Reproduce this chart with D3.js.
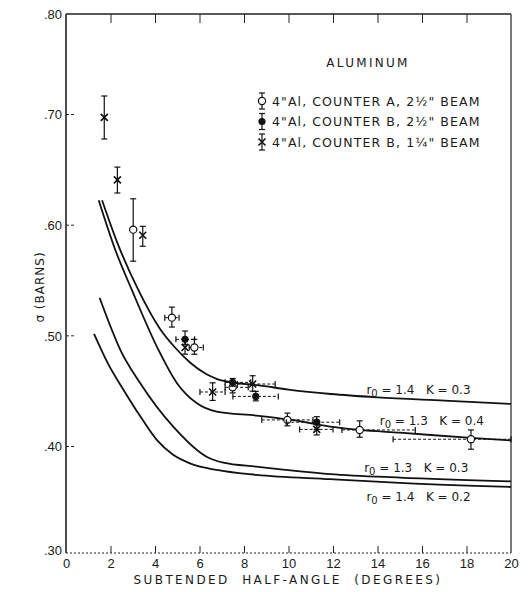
<!DOCTYPE html>
<html>
<head>
<meta charset="utf-8">
<script src="https://cdn.jsdelivr.net/npm/d3@7/dist/d3.min.js"></script>
<style>
    body { margin: 0; background: #fff; }
    svg { font-family: "DejaVu Sans", sans-serif; fill: #1a1a1a; }
    .curve { fill: none; stroke: #111; stroke-width: 1.8; }
    .frame line { stroke: #222; }
    .ebar { stroke: #111; stroke-width: 1.2; }
    .hbar { stroke: #111; stroke-width: 1; stroke-dasharray: 3, 2; }
    .tick text { font-size: 13px; fill: #1a1a1a; }
    .tick line { stroke: #222; }
</style>
</head>
<body>
<div class="svg_container"></div>
<script>
// axis ticks
var xTicks = [0, 2, 4, 6, 8, 10, 12, 14, 16, 18, 20];
var yTicks = [0.30, 0.40, 0.50, 0.60, 0.70, 0.80];
var yTickLabels = [".30", ".40", ".50", ".60", ".70", ".80"];

// 4" Al, counter A, 2 1/2" beam (open circles)
var aX = [3.02, 4.76, 5.77, 7.49, 9.95, 13.2, 18.2];
var aY = [0.5955, 0.516, 0.489, 0.453, 0.4236, 0.4145, 0.4061];
var aYErr = [[0.567, 0.6234], [0.5075, 0.5255], [0.4829, 0.4964], [0.448, 0.4585], [0.4182, 0.4297], [0.4079, 0.4227], [0.397, 0.4145]];
var aXErr = [null, [4.44, 5.08], [5.54, 6.17], [7.15, 8.19], [8.8, 11.1], [12.4, 15.7], [14.7, 20]];

// 4" Al, counter B, 2 1/2" beam (filled circles)
var bX = [5.35, 7.49, 8.53, 11.27];
var bY = [0.4964, 0.4575, 0.4448, 0.4215];
var bYErr = [[0.4919, 0.5039], [0.454, 0.461], [0.4408, 0.4494], [0.415, 0.4265]];
var bXErr = [[4.94, 5.78], [7.15, 8.3], [7.5, 9.54], [9.9, 12.3]];

// 4" Al, counter B, 1 1/4" beam (crosses)
var cX = [1.72, 2.31, 3.45, 5.35, 6.59, 8.39, 11.27];
var cY = [0.697, 0.6405, 0.5904, 0.489, 0.4488, 0.456, 0.415];
var cYErr = [[0.6774, 0.718], [0.6286, 0.652], [0.5805, 0.5985], [0.483, 0.4955], [0.4412, 0.4571], [0.4495, 0.4635], [0.41, 0.42]];
var cXErr = [null, null, null, null, [6.02, 7.15], [7.7, 9.4], [10.5, 12.0]];

// calculated curves
var curve1X = [1.62, 2.3, 3.25, 4.22, 4.9, 5.6, 6.3, 6.8, 7.6, 8.6, 10, 11.9, 14, 17, 20];
var curve1Y = [0.622, 0.584, 0.541, 0.506, 0.489, 0.475, 0.465, 0.4605, 0.457, 0.455, 0.451, 0.447, 0.444, 0.441, 0.438];
var curve2X = [1.47, 2.2, 2.96, 4.15, 4.98, 5.87, 6.77, 8.57, 10, 11.87, 13.2, 15, 18.2, 20];
var curve2Y = [0.622, 0.578, 0.541, 0.487, 0.457, 0.4388, 0.4311, 0.4275, 0.424, 0.4175, 0.4145, 0.412, 0.4073, 0.405];
var curve3X = [1.51, 2.0, 2.43, 3.33, 4.82, 6.32, 7.07, 8.57, 11.87, 15, 20];
var curve3Y = [0.534, 0.508, 0.4873, 0.457, 0.4175, 0.39, 0.3844, 0.3807, 0.3738, 0.3705, 0.367];
var curve4X = [1.26, 1.9, 2.58, 3.3, 4.08, 4.8, 5.57, 6.77, 8.57, 11.87, 15, 20];
var curve4Y = [0.5014, 0.474, 0.4509, 0.428, 0.4055, 0.392, 0.3838, 0.3776, 0.373, 0.369, 0.3655, 0.3617];
var curveR0 = ["1.4", "1.3", "1.3", "1.4"];
var curveK = ["0.3", "0.4", "0.3", "0.2"];

var legendLabels = ['4"Al, COUNTER A, 2\u00BD" BEAM', '4"Al, COUNTER B, 2\u00BD" BEAM', '4"Al, COUNTER B, 1\u00BC" BEAM'];

const WIDTH = 530;
const HEIGHT = 592;
const LEFT = 66;
const RIGHT = 511;
const TOP = 14;
const BOTTOM = 553;

var translate = function (x, y) {
    return "translate(" + x + "," + y + ")";
};

var xScale = d3.scaleLinear()
    .domain([0, 20])
    .range([LEFT, RIGHT]);

// the printed scale is a little stretched between .70 and .80
var yScale = d3.scaleLinear()
    .domain([0.30, 0.40, 0.70, 0.80])
    .range([BOTTOM, 446, 114, TOP]);

var line = d3.line()
    .x(function (d) { return xScale(d[0]); })
    .y(function (d) { return yScale(d[1]); })
    .curve(d3.curveMonotoneX);

var loadAxis = function (svg) {
    var xAxis = d3.axisBottom(xScale)
        .tickValues(xTicks)
        .tickSize(-7)
        .tickPadding(6)
        .tickFormat(d3.format("d"));
    var gx = svg.append('g')
        .attr('transform', translate(0, BOTTOM))
        .call(xAxis);
    gx.select('.domain').remove();
    gx.selectAll('.tick line').filter(function (d) { return d === 0 || d === 20; }).remove();

    var topAxis = d3.axisTop(xScale)
        .tickValues(xTicks.slice(1, -1))
        .tickSize(-9)
        .tickFormat("");
    var gt = svg.append('g')
        .attr('transform', translate(0, TOP))
        .call(topAxis);
    gt.select('.domain').remove();

    var yAxis = d3.axisLeft(yScale)
        .tickValues(yTicks)
        .tickSize(-9)
        .tickPadding(4)
        .tickFormat(function (d, i) { return yTickLabels[i]; });
    var gy = svg.append('g')
        .attr('transform', translate(LEFT, 0))
        .call(yAxis);
    gy.select('.domain').remove();
    gy.selectAll('.tick line').attr('stroke-dasharray', '3,2')
        .filter(function (d) { return d === 0.30 || d === 0.80; }).remove();
    gy.selectAll('.tick text').attr('dy', '0.36em');
    gy.selectAll('.tick text').filter(function (d) { return d === 0.30; }).attr('dy', '0.1em');

    var frame = svg.append('g').attr('class', 'frame');
    frame.append('line').attr('x1', LEFT).attr('x2', LEFT).attr('y1', TOP).attr('y2', BOTTOM).attr('stroke-width', 1.6);
    frame.append('line').attr('x1', LEFT).attr('x2', RIGHT).attr('y1', TOP).attr('y2', TOP).attr('stroke-width', 1.4);
    frame.append('line').attr('x1', RIGHT).attr('x2', RIGHT).attr('y1', TOP).attr('y2', BOTTOM).attr('stroke-width', 1.2);
    frame.append('line').attr('x1', LEFT).attr('x2', RIGHT).attr('y1', BOTTOM).attr('y2', BOTTOM)
        .attr('stroke-width', 1).attr('stroke-dasharray', '2,2');

    svg.append('text')
        .attr('x', 288)
        .attr('y', 584)
        .attr('text-anchor', 'middle')
        .style('font-size', '12px')
        .style('letter-spacing', '2.4px')
        .style('white-space', 'pre')
        .text("SUBTENDED  HALF-ANGLE  (DEGREES)");

    svg.append('text')
        .attr('transform', translate(44, 287) + " rotate(-90)")
        .attr('text-anchor', 'middle')
        .style('font-size', '12px')
        .style('letter-spacing', '1px')
        .text("\u03C3 (BARNS)");
};

var createCurves = function (svg) {
    var xs = [curve1X, curve2X, curve3X, curve4X];
    var ys = [curve1Y, curve2Y, curve3Y, curve4Y];
    var labelPos = [[13.5, 0.447], [14.1, 0.419], [13.4, 0.3757], [13.5, 0.3486]];
    var g = svg.append('g');
    xs.forEach(function (cx, i) {
        var pts = cx.map(function (d, j) { return [d, ys[i][j]]; });
        g.append('path')
            .attr('class', 'curve')
            .attr('d', line(pts));

        var t = g.append('text')
            .attr('x', xScale(labelPos[i][0]))
            .attr('y', yScale(labelPos[i][1]))
            .style('font-size', '12px')
            .style('white-space', 'pre');
        t.append('tspan').text("r");
        t.append('tspan').attr('dy', 3).style('font-size', '10px').text("0");
        t.append('tspan').attr('dy', -3).text(" = " + curveR0[i] + "   K = " + curveK[i]);
    });
};

var drawMarker = function (g, px, py, kind) {
    if (kind === 'open') {
        g.append('circle').attr('cx', px).attr('cy', py).attr('r', 3.6)
            .attr('fill', '#fff').attr('stroke', '#111').attr('stroke-width', 1.2);
    } else if (kind === 'filled') {
        g.append('circle').attr('cx', px).attr('cy', py).attr('r', 3.6)
            .attr('fill', '#111');
    } else {
        g.append('path')
            .attr('d', "M" + (px - 3.5) + "," + (py - 3.5) + "L" + (px + 3.5) + "," + (py + 3.5) +
                "M" + (px - 3.5) + "," + (py + 3.5) + "L" + (px + 3.5) + "," + (py - 3.5))
            .attr('stroke', '#111').attr('stroke-width', 1.6);
    }
};

var createSeries = function (svg, xs, ys, yErr, xErr, kind) {
    var g = svg.append('g');
    xs.forEach(function (d, i) {
        var px = xScale(d), py = yScale(ys[i]);
        if (xErr[i]) {
            var x0 = xScale(xErr[i][0]), x1 = xScale(xErr[i][1]);
            g.append('line').attr('class', 'hbar').attr('x1', x0).attr('x2', x1).attr('y1', py).attr('y2', py);
            g.append('line').attr('class', 'ebar').attr('x1', x0).attr('x2', x0).attr('y1', py - 3).attr('y2', py + 3);
            g.append('line').attr('class', 'ebar').attr('x1', x1).attr('x2', x1).attr('y1', py - 3).attr('y2', py + 3);
        }
        var y0 = yScale(yErr[i][0]), y1 = yScale(yErr[i][1]);
        g.append('line').attr('class', 'ebar').attr('x1', px).attr('x2', px).attr('y1', y0).attr('y2', y1);
        g.append('line').attr('class', 'ebar').attr('x1', px - 3).attr('x2', px + 3).attr('y1', y0).attr('y2', y0);
        g.append('line').attr('class', 'ebar').attr('x1', px - 3).attr('x2', px + 3).attr('y1', y1).attr('y2', y1);
        drawMarker(g, px, py, kind);
    });
};

var createLegend = function (svg) {
    var kinds = ['open', 'filled', 'cross'];
    var g = svg.append('g');
    g.append('text')
        .attr('x', 368)
        .attr('y', 67)
        .attr('text-anchor', 'middle')
        .style('font-size', '12px')
        .style('letter-spacing', '2.3px')
        .text("ALUMINUM");
    legendLabels.forEach(function (label, i) {
        var cy = 101 + i * 20.5;
        g.append('line').attr('class', 'ebar').attr('x1', 262).attr('x2', 262).attr('y1', cy - 8).attr('y2', cy + 8);
        g.append('line').attr('class', 'ebar').attr('x1', 259).attr('x2', 265).attr('y1', cy - 8).attr('y2', cy - 8);
        g.append('line').attr('class', 'ebar').attr('x1', 259).attr('x2', 265).attr('y1', cy + 8).attr('y2', cy + 8);
        drawMarker(g, 262, cy, kinds[i]);
        g.append('text')
            .attr('x', 272)
            .attr('y', cy + 4.5)
            .style('font-size', '12.5px')
            .style('letter-spacing', '1.1px')
            .text(label);
    });
};

var loadDefault = function () {
    var svg = d3.select('.svg_container').append('svg')
        .attr('width', WIDTH)
        .attr('height', HEIGHT);
    svg.append('rect').attr('width', WIDTH).attr('height', HEIGHT).attr('fill', '#fff');
    loadAxis(svg);
    createCurves(svg);
    createSeries(svg, aX, aY, aYErr, aXErr, 'open');
    createSeries(svg, bX, bY, bYErr, bXErr, 'filled');
    createSeries(svg, cX, cY, cYErr, cXErr, 'cross');
    createLegend(svg);
};

window.onload = loadDefault;
</script>
</body>
</html>
